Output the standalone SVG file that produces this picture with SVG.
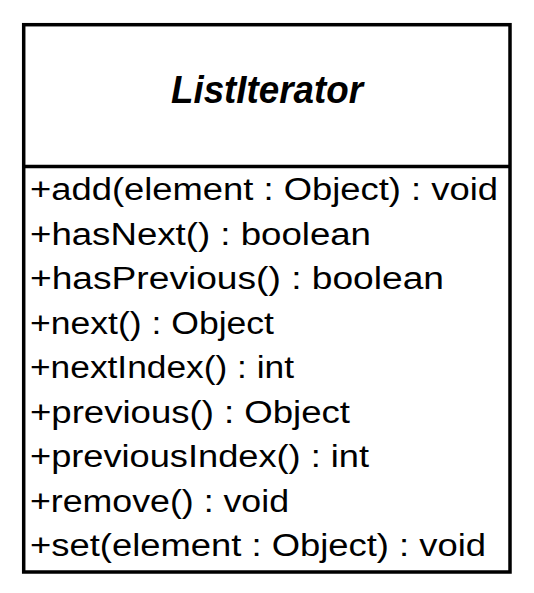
<svg xmlns="http://www.w3.org/2000/svg" width="534" height="593" viewBox="0 0 534 593">
<style>
.box{fill:#ffffff;stroke:#000000;stroke-width:3.5}
.div{stroke:#000000;stroke-width:3.5}
.title{font-family:"Liberation Sans",Arial,sans-serif;font-size:39px;font-weight:bold;font-style:italic;fill:#000000}
.m{font-family:"Liberation Sans",Arial,sans-serif;font-size:31px;fill:#000000}
</style>
<rect x="0" y="0" width="534" height="593" fill="#ffffff"/>
<g id="ListIterator">
<rect class="box" x="23.7" y="24.7" width="486.3" height="547.3"/>
<line class="div" x1="23.7" y1="166.5" x2="510" y2="166.5"/>
<text class="title" x="267" y="102.5" text-anchor="middle" textLength="192" lengthAdjust="spacingAndGlyphs">ListIterator</text>
<text class="m" x="30" y="200" textLength="468" lengthAdjust="spacingAndGlyphs">+add(element : Object) : void</text>
<text class="m" x="30" y="244.5" textLength="341" lengthAdjust="spacingAndGlyphs">+hasNext() : boolean</text>
<text class="m" x="30" y="289" textLength="414" lengthAdjust="spacingAndGlyphs">+hasPrevious() : boolean</text>
<text class="m" x="30" y="333.5" textLength="244" lengthAdjust="spacingAndGlyphs">+next() : Object</text>
<text class="m" x="30" y="378" textLength="264" lengthAdjust="spacingAndGlyphs">+nextIndex() : int</text>
<text class="m" x="30" y="422.5" textLength="320" lengthAdjust="spacingAndGlyphs">+previous() : Object</text>
<text class="m" x="30" y="467" textLength="339" lengthAdjust="spacingAndGlyphs">+previousIndex() : int</text>
<text class="m" x="30" y="511.5" textLength="259" lengthAdjust="spacingAndGlyphs">+remove() : void</text>
<text class="m" x="30" y="556" textLength="456" lengthAdjust="spacingAndGlyphs">+set(element : Object) : void</text>
</g>
<g id="connectors"></g>
</svg>
